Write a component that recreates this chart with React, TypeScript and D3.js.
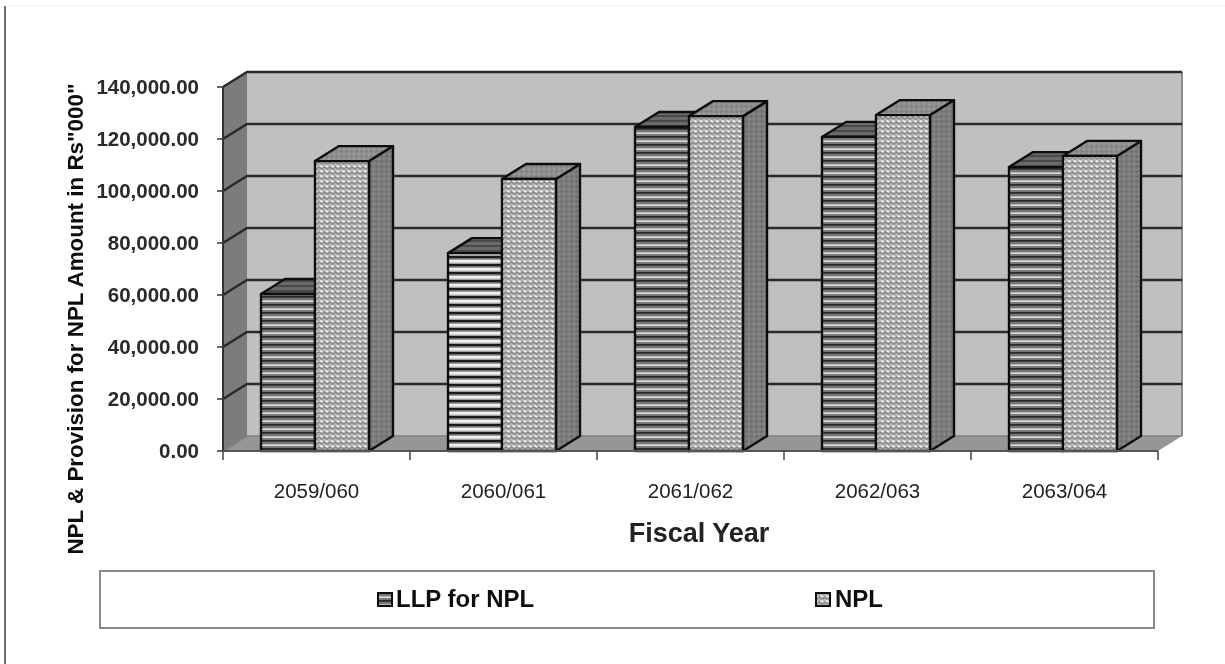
import React, { useMemo } from "react";
import * as d3 from "d3";

const categories = ["2059/060", "2060/061", "2061/062", "2062/063", "2063/064"];
const llp = [60400, 76100, 124600, 120800, 109200];
const npl = [111500, 104600, 128800, 129200, 113500];
const llpPatterns = ["stripes", "stripesBright", "stripes", "stripes", "stripes"];
const yTicks = [0, 20000, 40000, 60000, 80000, 100000, 120000, 140000];
const seriesNames = ["LLP for NPL", "NPL"];
const yTitle = 'NPL & Provision for NPL Amount in Rs"000"';
const xTitle = "Fiscal Year";

const W = 1225, H = 664;
const DX = 24, DY = -15;
const FONT = "Liberation Sans, Arial, sans-serif";

export default function App() {
  const x = useMemo(() => d3.scaleBand<string>().domain(categories).range([223, 1158]), []);
  const y = useMemo(() => d3.scaleLinear().domain([0, 140000]).range([451, 87]), []);
  const x0 = 223, x1 = 1158, y0 = y(0), yT = y(140000);
  const fmt = d3.format(",.2f");
  const BW = 54, OFF = 38;
  const bars = categories.flatMap((c, i) => [
    { key: c + "a", left: x(c)! + OFF, v: llp[i], fill: `url(#${llpPatterns[i]})`, top: "url(#stripesTop)", side: "url(#stripesSide)" },
    { key: c + "b", left: x(c)! + OFF + BW, v: npl[i], fill: "url(#dots)", top: "url(#dotsTop)", side: "url(#dotsSide)" },
  ]);
  const line = d3.line();
  const p = (pts: [number, number][]) => line(pts)! + "Z";
  return (
    <svg width={W} height={H} style={{ position: "absolute", left: 0, top: 0, background: "#fff" }} fontFamily={FONT}>
      <defs>
        <pattern id="stripes" width="6" height="8" patternUnits="userSpaceOnUse">
          <rect width="6" height="8" fill="#787878" />
          <rect width="6" height="1.8" fill="#2a2a2a" />
          <rect y="4.4" width="6" height="1.6" fill="#dcdcdc" />
        </pattern>
        <pattern id="stripesBright" width="6" height="8" patternUnits="userSpaceOnUse">
          <rect width="6" height="8" fill="#a0a0a0" />
          <rect width="6" height="2.4" fill="#1c1c1c" />
          <rect y="4" width="6" height="2.6" fill="#f0f0f0" />
        </pattern>
        <pattern id="stripesTop" width="6" height="5" patternUnits="userSpaceOnUse">
          <rect width="6" height="5" fill="#6a6a6a" />
          <rect width="6" height="2" fill="#484848" />
        </pattern>
        <pattern id="stripesSide" width="6" height="8" patternUnits="userSpaceOnUse">
          <rect width="6" height="8" fill="#777" />
          <rect width="6" height="2.5" fill="#5c5c5c" />
        </pattern>
        <pattern id="dots" width="11" height="10" patternUnits="userSpaceOnUse">
          <rect width="11" height="10" fill="#b4b4b4" />
          <path d="M0 2L2.7 4L5.5 2L8.2 4L11 2M0 7L2.7 9L5.5 7L8.2 9L11 7" stroke="#8a8a8a" strokeWidth="1.5" fill="none" />
          <path d="M1 0.4L3.6 2M6.5 5.4L9 7M1.2 5.4L3.8 7M6.6 0.4L9.2 2" stroke="#ececec" strokeWidth="1.8" fill="none" />
        </pattern>
        <pattern id="dotsTop" width="5" height="5" patternUnits="userSpaceOnUse">
          <rect width="5" height="5" fill="#8e8e8e" />
          <circle cx="1.5" cy="1.5" r="1" fill="#787878" />
          <circle cx="4" cy="4" r="1" fill="#a0a0a0" />
        </pattern>
        <pattern id="dotsSide" width="5" height="5" patternUnits="userSpaceOnUse">
          <rect width="5" height="5" fill="#7c7c7c" />
          <circle cx="1.5" cy="1.5" r="1" fill="#666" />
          <circle cx="4" cy="4" r="1" fill="#8e8e8e" />
        </pattern>
        <filter id="soft" x="-2%" y="-2%" width="104%" height="104%">
          <feGaussianBlur stdDeviation="0.7" />
        </filter>
      </defs>
      <g filter="url(#soft)">
        {/* frame */}
        <line x1={5} x2={5} y1={6} y2={H} stroke="#6e6e6e" strokeWidth={2} />
        <line x1={6} x2={W} y1={6} y2={6} stroke="#f4f4f4" strokeWidth={1} />

        {/* walls */}
        <path d={p([[x0 + DX, yT + DY], [x1 + DX, yT + DY], [x1 + DX, y0 + DY], [x0 + DX, y0 + DY]])} fill="#c0c0c0" />
        <path d={p([[x0, yT], [x0 + DX, yT + DY], [x0 + DX, y0 + DY], [x0, y0]])} fill="#7c7c7c" />
        <path d={p([[x0, y0], [x0 + DX, y0 + DY], [x1 + DX, y0 + DY], [x1, y0]])} fill="#969696" />
        <line x1={x1 + DX} x2={x1 + DX} y1={yT + DY} y2={y0 + DY} stroke="#8a8a8a" strokeWidth={2} />

        {/* gridlines */}
        {yTicks.map((t) => (
          <path key={t} d={line([[x0, y(t)], [x0 + DX, y(t) + DY], [x1 + DX, y(t) + DY]])!} fill="none"
            stroke={t === 0 ? "#808080" : "#2b2b2b"} strokeWidth={t === 0 ? 1.5 : 2.6} />
        ))}

        {/* bars */}
        {bars.map((b) => {
          const l = b.left, r = b.left + BW, t = y(b.v), bt = y0;
          return (
            <g key={b.key} stroke="#111" strokeWidth={2.4} strokeLinejoin="round">
              <path d={p([[r, t], [r + DX, t + DY], [r + DX, bt + DY], [r, bt]])} fill={b.side} />
              <path d={p([[l, t], [l + DX, t + DY], [r + DX, t + DY], [r, t]])} fill={b.top} />
              <rect x={l} y={t} width={BW} height={bt - t} fill={b.fill} />
            </g>
          );
        })}

        {/* axes */}
        <line x1={x0} x2={x0} y1={yT} y2={y0} stroke="#333" strokeWidth={2} />
        <line x1={x0} x2={x1} y1={y0} y2={y0} stroke="#555" strokeWidth={2} />
        {yTicks.map((t) => (
          <g key={t}>
            <line x1={x0 - 6} x2={x0} y1={y(t)} y2={y(t)} stroke="#333" strokeWidth={1.5} />
            <text x={199} y={y(t)} dy="0.35em" textAnchor="end" fontSize={20.5} fontWeight={700} fill="#2a2a2a">{fmt(t)}</text>
          </g>
        ))}
        {[...categories.map((c) => x(c)!), x1].map((v) => (
          <line key={v} x1={v} x2={v} y1={y0} y2={y0 + 9} stroke="#444" strokeWidth={1.5} />
        ))}
        {categories.map((c) => (
          <text key={c} x={x(c)! + x.bandwidth() / 2} y={498} textAnchor="middle" fontSize={20.5} fill="#222">{c}</text>
        ))}
        <text x={699} y={542} textAnchor="middle" fontSize={27} fontWeight={700} fill="#222">{xTitle}</text>
        <text transform="translate(83,319) rotate(-90)" textAnchor="middle" fontSize={22.4} fontWeight={700} fill="#111">{yTitle}</text>

        {/* legend */}
        <rect x={100} y={571} width={1054} height={57} fill="#fff" stroke="#8a8a8a" strokeWidth={2} />
        <rect x={378} y={593} width={14} height={13} fill="url(#stripes)" stroke="#111" strokeWidth={2} />
        <text x={396} y={607} fontSize={24} fontWeight={700} fill="#111">{seriesNames[0]}</text>
        <rect x={816} y={593} width={14} height={13} fill="url(#dots)" stroke="#111" strokeWidth={2} />
        <text x={835} y={607} fontSize={24} fontWeight={700} fill="#111">{seriesNames[1]}</text>
      </g>
    </svg>
  );
}
